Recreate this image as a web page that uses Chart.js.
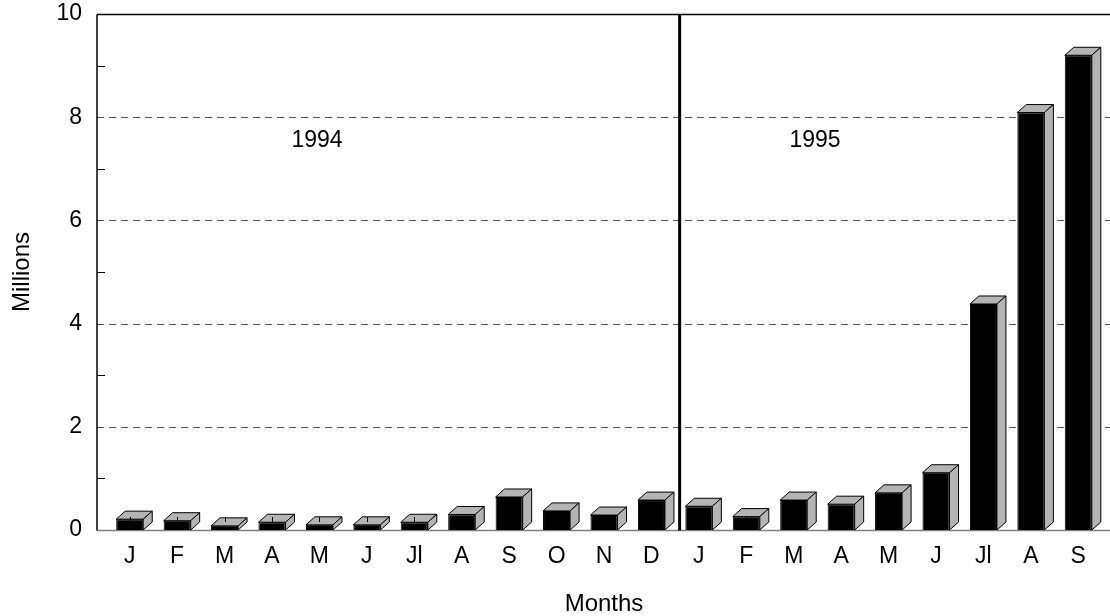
<!DOCTYPE html>
<html>
<head>
<meta charset="utf-8">
<script src="https://cdn.jsdelivr.net/npm/chart.js@4/dist/chart.umd.min.js"></script>
<style>
  html, body { margin: 0; padding: 0; background: #fff; }
  #grafico { width: 1110px; height: 616px; }
</style>
</head>
<body>
<div id="grafico"><canvas id="chart-area"></canvas></div>
<script>
// Dados (milhões por mês, jan/1994 a set/1995)
const meses = ['J', 'F', 'M', 'A', 'M', 'J', 'Jl', 'A', 'S', 'O', 'N', 'D',
               'J', 'F', 'M', 'A', 'M', 'J', 'Jl', 'A', 'S'];
const valores = [0.21, 0.18, 0.08, 0.15, 0.10, 0.10, 0.15, 0.30, 0.64, 0.37, 0.29, 0.58,
                 0.46, 0.26, 0.58, 0.50, 0.72, 1.11, 4.38, 8.09, 9.20];
const anos = ['1994', '1995'];
const yMin = 0;
const yMax = 10;
const yPasso = 2;

const FONTE = '"Liberation Sans", Arial, Helvetica, sans-serif';
const PROF_X = 9;   // profundidade do efeito 3D
const PROF_Y = 8;

function linha(ctx, x1, y1, x2, y2) {
    ctx.beginPath();
    ctx.moveTo(x1, y1);
    ctx.lineTo(x2, y2);
    ctx.stroke();
}

// Fundo: grade, eixos, divisória e faces laterais/superiores das barras
const efeito3d = {
    id: 'efeito3d',
    beforeDatasetsDraw(chart) {
        const ctx = chart.ctx;
        const x = chart.scales.x;
        const y = chart.scales.y;
        const esq = chart.chartArea.left - PROF_X;
        const dir = chart.width;
        const topo = Math.round(y.getPixelForValue(yMax)) + 0.5;
        const base = Math.round(y.getPixelForValue(yMin)) + 0.5;

        ctx.save();

        // linhas de grade tracejadas
        ctx.strokeStyle = '#555';
        ctx.lineWidth = 1;
        ctx.setLineDash([7, 5]);
        for (let v = yMin + yPasso; v < yMax; v += yPasso) {
            const py = Math.round(y.getPixelForValue(v)) + 0.5;
            linha(ctx, esq, py, dir, py);
        }
        ctx.setLineDash([]);

        // marcas menores
        ctx.strokeStyle = '#000';
        for (let v = yMin + 1; v < yMax; v += yPasso) {
            const py = Math.round(y.getPixelForValue(v)) + 0.5;
            linha(ctx, esq, py, esq + 8, py);
        }

        // linha de base cinza
        ctx.strokeStyle = '#808080';
        ctx.lineWidth = 1.5;
        linha(ctx, esq, base, dir, base);

        // moldura
        ctx.strokeStyle = '#000';
        ctx.lineWidth = 1.5;
        linha(ctx, esq, topo, dir, topo);
        linha(ctx, esq, topo, esq, base);

        // divisória entre os anos
        const divX = (x.getPixelForValue(11) + x.getPixelForValue(12)) / 2 + PROF_X / 2;
        ctx.lineWidth = 3;
        linha(ctx, divX, topo, divX, base);

        // faces 3D
        const meta = chart.getDatasetMeta(0);
        ctx.lineWidth = 1;
        ctx.strokeStyle = '#000';
        ctx.fillStyle = '#b4b4b4';
        meta.data.forEach(barra => {
            const l = barra.x - barra.width / 2;
            const r = barra.x + barra.width / 2;
            const t = barra.y;
            const b = barra.base;

            ctx.beginPath();
            ctx.moveTo(l, t);
            ctx.lineTo(l + PROF_X, t - PROF_Y);
            ctx.lineTo(r + PROF_X, t - PROF_Y);
            ctx.lineTo(r, t);
            ctx.closePath();
            ctx.fill();
            ctx.stroke();

            ctx.beginPath();
            ctx.moveTo(r, t);
            ctx.lineTo(r + PROF_X, t - PROF_Y);
            ctx.lineTo(r + PROF_X, b - PROF_Y);
            ctx.lineTo(r, b);
            ctx.closePath();
            ctx.fill();
            ctx.stroke();

            // marquinha do eixo no fundo
            const mx = Math.round(barra.x) + 0.5;
            linha(ctx, mx, b - PROF_Y, mx, b - PROF_Y - 5);
        });

        ctx.restore();
    },
    afterDatasetsDraw(chart) {
        const ctx = chart.ctx;
        const x = chart.scales.x;
        const y = chart.scales.y;
        const posicoes = [3.95, 14.45];
        ctx.save();
        ctx.fillStyle = '#000';
        ctx.font = '23px ' + FONTE;
        ctx.textAlign = 'center';
        ctx.textBaseline = 'middle';
        anos.forEach((ano, i) => {
            ctx.fillText(ano, x.getPixelForValue(posicoes[i]), y.getPixelForValue(7.55));
        });
        ctx.restore();
    }
};

function gerarGrafico(labels, dados) {
    let config = {
        type: 'bar',
        data: {
            labels: labels,
            datasets: [{
                data: dados,
                backgroundColor: '#000',
                borderColor: '#000',
                borderWidth: 1,
                barPercentage: 0.57,
                categoryPercentage: 1
            }]
        },
        options: {
            responsive: true,
            maintainAspectRatio: false,
            animation: false,
            layout: { autoPadding: false, padding: { top: 14, right: 8, bottom: 0, left: 0 } },
            plugins: {
                legend: { display: false },
                tooltip: { enabled: false }
            },
            scales: {
                x: {
                    grid: { display: false },
                    border: { display: false },
                    ticks: { color: '#000', font: { family: FONTE, size: 23 }, padding: 5, maxRotation: 0, autoSkip: false },
                    title: { display: true, text: 'Months', color: '#000', font: { family: FONTE, size: 24 }, padding: { top: 0, bottom: -3 } },
                    afterFit: s => { s.height = 86; }
                },
                y: {
                    min: yMin,
                    max: yMax,
                    grid: { display: false, drawTicks: false },
                    border: { display: false },
                    ticks: { stepSize: yPasso, color: '#000', font: { family: FONTE, size: 23 }, padding: 24 },
                    title: { display: true, text: 'Millions', color: '#000', font: { family: FONTE, size: 24 }, padding: { top: 8, bottom: 0 } },
                    afterFit: s => { s.width = 106; s.paddingTop = 0; s.paddingBottom = 0; }
                }
            }
        },
        plugins: [efeito3d]
    };

    let ctx = document.getElementById('chart-area').getContext('2d');
    window.meuGrafico = new Chart(ctx, config);
}

gerarGrafico(meses, valores);
</script>
</body>
</html>
